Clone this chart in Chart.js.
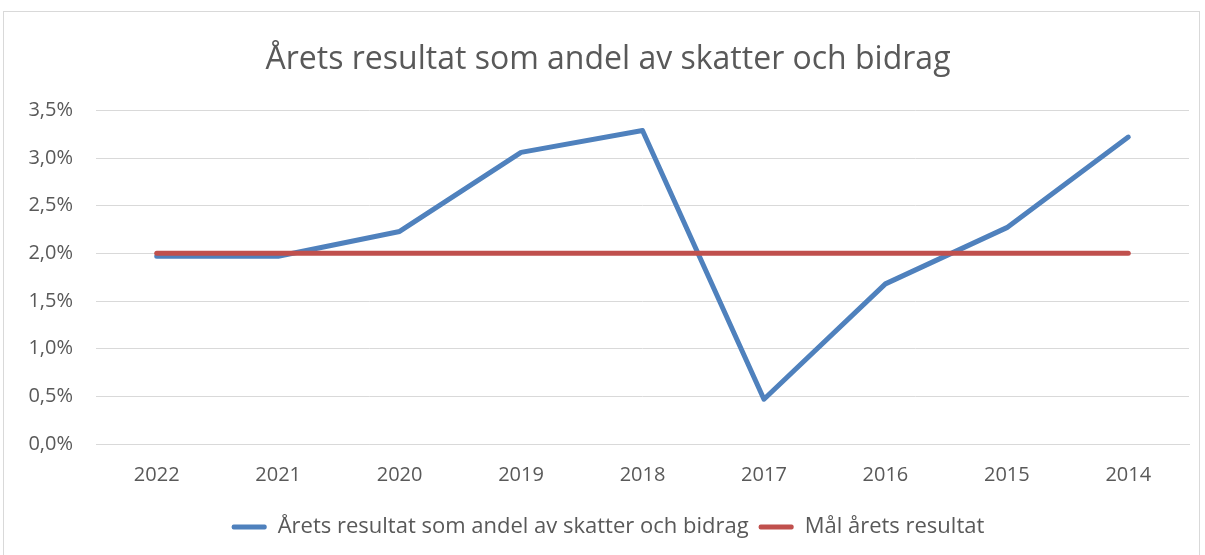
<!DOCTYPE html>
<html>
<head>
<meta charset="utf-8">
<script src="https://cdn.jsdelivr.net/npm/chart.js@4"></script>
<style>
  html, body { margin: 0; padding: 0; background: #fff; }
  #frame {
    position: absolute; left: 3px; top: 11px; width: 1195px; height: 560px;
    border: 1px solid #d9d9d9; background: #fff;
  }
  #wrap { position: absolute; left: 0; top: 0; width: 1195px; height: 536px; }
</style>
</head>
<body>
<div id="frame"><div id="wrap"><canvas id="chart"></canvas></div></div>
<script>
// years are shown newest first, like in the report
const years = ['2022', '2021', '2020', '2019', '2018', '2017', '2016', '2015', '2014'];
const resultShare = [1.97, 1.97, 2.23, 3.06, 3.29, 0.47, 1.68, 2.27, 3.22];
const resultTarget = [2, 2, 2, 2, 2, 2, 2, 2, 2];
const yTicks = [0, 0.5, 1, 1.5, 2, 2.5, 3, 3.5];

const textColor = '#595959';
const fontFamily = '"Open Sans", sans-serif';

function pct(v) {
    return v.toFixed(1).replace('.', ',') + '%';
}

var chart = new Chart(document.getElementById('chart'), {
    type: 'line',
    data: {
        labels: years,
        datasets: [
            {
                label: 'Årets resultat som andel av skatter och bidrag',
                data: resultShare,
                borderColor: '#4f81bd',
                backgroundColor: '#4f81bd',
                borderWidth: 5,
                borderCapStyle: 'round',
                borderJoinStyle: 'round',
                pointRadius: 0,
                order: 1
            },
            {
                label: 'Mål årets resultat',
                data: resultTarget,
                borderColor: '#c0504d',
                backgroundColor: '#c0504d',
                borderWidth: 5,
                borderCapStyle: 'round',
                pointRadius: 0,
                order: 0
            }
        ]
    },
    options: {
        responsive: true,
        maintainAspectRatio: false,
        animation: false,
        layout: {
            padding: { left: 23, right: 10, top: 0, bottom: 0 }
        },
        plugins: {
            title: {
                display: true,
                text: 'Årets resultat som andel av skatter och bidrag',
                color: textColor,
                font: { family: fontFamily, size: 32, weight: 'normal' },
                padding: { top: 29, bottom: 31 }
            },
            legend: {
                position: 'bottom',
                labels: {
                    color: textColor,
                    font: { family: fontFamily, size: 22 },
                    boxWidth: 35,
                    boxHeight: 5,
                    padding: 10,
                    sort: (a, b) => a.datasetIndex - b.datasetIndex,
                    generateLabels: function (c) {
                        var items = Chart.defaults.plugins.legend.labels.generateLabels(c);
                        items.forEach(function (it) {
                            it.lineWidth = 0;
                            it.borderRadius = 2;
                        });
                        return items;
                    },
                    useBorderRadius: true
                }
            },
            tooltip: { enabled: false }
        },
        scales: {
            x: {
                offset: true,
                grid: { display: false, drawTicks: false },
                border: { color: '#d9d9d9', width: 1 },
                ticks: {
                    color: textColor,
                    font: { family: fontFamily, size: 20 },
                    padding: 19,
                    maxRotation: 0
                }
            },
            y: {
                min: 0,
                max: 3.5,
                afterFit: function (scale) { scale.width = 69; },
                afterBuildTicks: function (scale) {
                    scale.ticks = yTicks.map(v => ({ value: v }));
                },
                grid: { color: '#d9d9d9', lineWidth: 1, drawTicks: false },
                border: { display: false },
                ticks: {
                    color: textColor,
                    font: { family: fontFamily, size: 20 },
                    padding: 23,
                    callback: function (v) { return pct(v); }
                }
            }
        }
    }
});
</script>
</body>
</html>
